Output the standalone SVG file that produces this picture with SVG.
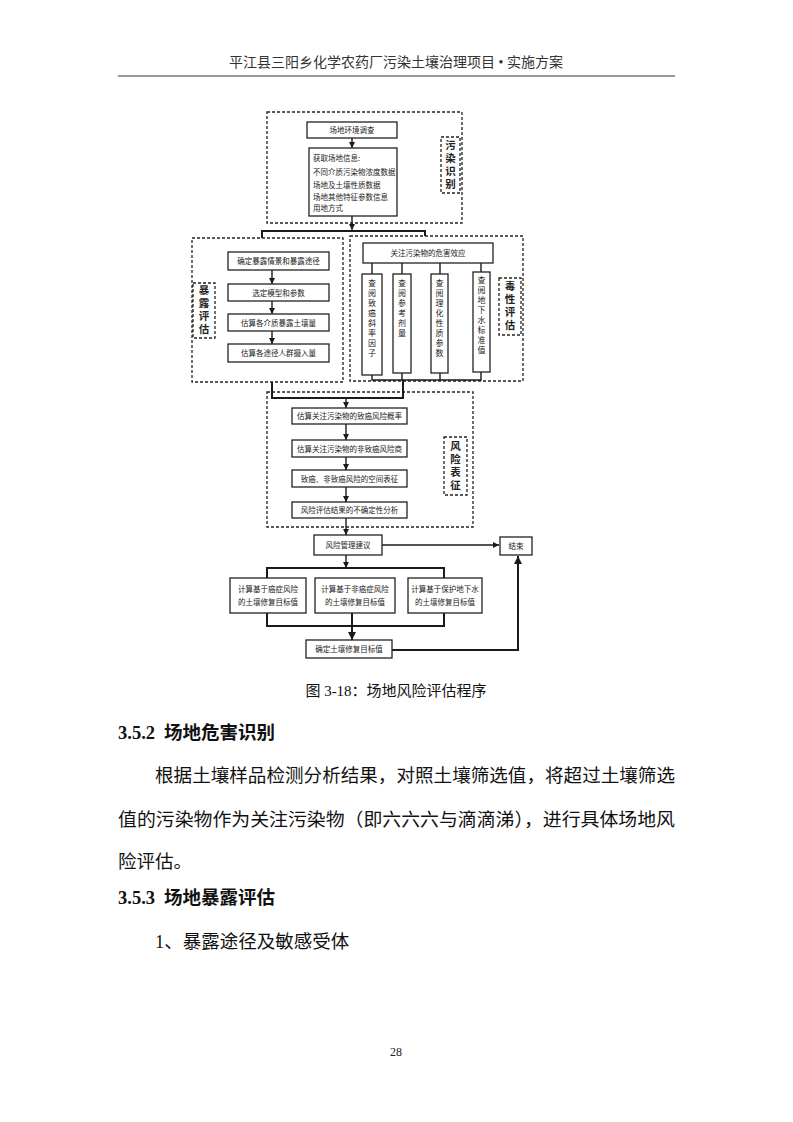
<svg xmlns="http://www.w3.org/2000/svg" width="793" height="1122" viewBox="0 0 793 1122">
<style>
.bg{fill:#ffffff}
.box{fill:#ffffff;stroke:#222;stroke-width:1.3}
.dash{fill:none;stroke:#222;stroke-width:1.3;stroke-dasharray:3 2}
.ln{fill:none;stroke:#1a1a1a;stroke-width:1.4}
.thk{fill:none;stroke:#1a1a1a;stroke-width:2}
.t{font-family:"Noto Sans CJK SC","Liberation Sans",sans-serif;font-size:7.5px;fill:#222}
.tc{font-family:"Noto Sans CJK SC","Liberation Sans",sans-serif;font-size:7.5px;fill:#222;text-anchor:middle}
.tv{font-family:"Noto Sans CJK SC","Liberation Sans",sans-serif;font-size:8px;fill:#222;writing-mode:vertical-rl;letter-spacing:2px}
.lab{font-family:"Noto Sans CJK SC","Liberation Sans",sans-serif;font-size:10.5px;font-weight:bold;fill:#222;writing-mode:vertical-rl;letter-spacing:2.5px}
.hdr{font-family:"Liberation Serif","Noto Sans CJK SC",serif;font-size:14px;fill:#333;text-anchor:middle}
.cap{font-family:"Liberation Serif","Noto Sans CJK SC",serif;font-size:15px;fill:#111;text-anchor:middle}
.h2{font-family:"Liberation Serif","Noto Sans CJK SC",serif;font-size:18.5px;font-weight:bold;fill:#111}
.body{font-family:"Liberation Serif","Noto Sans CJK SC",serif;font-size:18.5px;fill:#111}
.pg{font-family:"Liberation Serif",serif;font-size:12px;fill:#222;text-anchor:middle}
</style>
<defs>
<marker id="ah" markerWidth="6" markerHeight="6" refX="6" refY="3" orient="auto" markerUnits="userSpaceOnUse">
<path d="M0,0 L6,3 L0,6 z" fill="#1a1a1a"/>
</marker>
<marker id="ahb" markerWidth="8" markerHeight="8" refX="8" refY="4" orient="auto" markerUnits="userSpaceOnUse">
<path d="M0,0 L8,4 L0,8 z" fill="#1a1a1a"/>
</marker>
<clipPath id="infoclip"><rect x="309" y="148" width="88" height="68"/></clipPath>
</defs>
<rect class="bg" x="0" y="0" width="793" height="1122"/>

<g id="header">
<text class="hdr" x="396" y="67">平江县三阳乡化学农药厂污染土壤治理项目 • 实施方案</text>
<line x1="118" y1="76" x2="675" y2="76" stroke="#333" stroke-width="1.2"/>
</g>

<g id="groups">
<rect id="grp-pollution" class="dash" x="267" y="112" width="195" height="111"/>
<rect id="grp-exposure" class="dash" x="192" y="238" width="151" height="144"/>
<rect id="grp-toxicity" class="dash" x="350" y="236" width="173" height="145"/>
<rect id="grp-risk" class="dash" x="267" y="392" width="206" height="135"/>
</g>

<g id="connectors">
<line class="ln" x1="352" y1="138" x2="352" y2="148" marker-end="url(#ah)"/>
<line class="ln" x1="352" y1="216" x2="352" y2="230" marker-end="url(#ah)"/>
<polyline class="thk" points="262,238 262,231 425,231 425,236"/>
<line class="ln" x1="272" y1="270" x2="272" y2="284" marker-end="url(#ah)"/>
<line class="ln" x1="272" y1="301" x2="272" y2="314" marker-end="url(#ah)"/>
<line class="ln" x1="272" y1="331" x2="272" y2="344" marker-end="url(#ah)"/>
<line class="ln" x1="372" y1="263" x2="372" y2="274"/>
<line class="ln" x1="402" y1="263" x2="402" y2="274"/>
<line class="ln" x1="440" y1="263" x2="440" y2="274"/>
<line class="ln" x1="481" y1="263" x2="481" y2="272"/>
<polyline class="ln" points="372,375 372,380 481,380 481,372"/>
<line class="ln" x1="402" y1="373" x2="402" y2="380"/>
<line class="ln" x1="440" y1="373" x2="440" y2="380"/>
<polyline class="thk" points="272,382 272,398 403,398 403,380"/>
<line class="ln" x1="346" y1="398" x2="346" y2="408" marker-end="url(#ah)"/>
<line class="ln" x1="346" y1="424" x2="346" y2="440" marker-end="url(#ah)"/>
<line class="ln" x1="346" y1="457" x2="346" y2="470" marker-end="url(#ah)"/>
<line class="ln" x1="346" y1="487" x2="346" y2="502" marker-end="url(#ah)"/>
<line class="ln" x1="346" y1="518" x2="346" y2="535" marker-end="url(#ah)"/>
<line class="ln" x1="382" y1="545" x2="499" y2="545" marker-end="url(#ah)"/>
<line class="ln" x1="346" y1="555" x2="346" y2="568" marker-end="url(#ah)"/>
<polyline class="thk" points="267,578 267,568 444,568 444,578"/>
<polyline class="thk" points="267,613 267,626 444,626 444,613"/>
<line class="thk" x1="352" y1="613" x2="352" y2="640" marker-end="url(#ahb)"/>
<polyline class="thk" points="392,650 518,650 518,556" marker-end="url(#ahb)"/>
</g>

<g id="n-survey">
<rect class="box" x="307" y="122" width="90" height="16"/>
<text class="tc" x="352" y="133">场地环境调查</text>
</g>
<g id="n-info">
<rect class="box" x="309" y="148" width="88" height="68"/>
<g clip-path="url(#infoclip)">
<text class="t" x="313" y="161">获取场地信息:</text>
<text class="t" x="313" y="175">不同介质污染物浓度数据</text>
<text class="t" x="313" y="188">场地及土壤性质数据</text>
<text class="t" x="313" y="200">场地其他特征参数信息</text>
<text class="t" x="313" y="211">用地方式</text>
</g>
</g>
<g id="lab-pollution">
<rect class="dash" x="441" y="137" width="19" height="56"/>
<text class="lab" x="450.5" y="140">污染识别</text>
</g>

<g id="n-exp1">
<rect class="box" x="228" y="252" width="101" height="18"/>
<text class="tc" x="278.5" y="264">确定暴露情景和暴露途径</text>
</g>
<g id="n-exp2">
<rect class="box" x="228" y="284" width="101" height="17"/>
<text class="tc" x="278.5" y="295.5">选定模型和参数</text>
</g>
<g id="n-exp3">
<rect class="box" x="228" y="314" width="101" height="17"/>
<text class="tc" x="278.5" y="325.5">估算各介质暴露土壤量</text>
</g>
<g id="n-exp4">
<rect class="box" x="228" y="344" width="101" height="18"/>
<text class="tc" x="278.5" y="356">估算各途径人群摄入量</text>
</g>
<g id="lab-exposure">
<rect class="dash" x="193" y="283" width="22" height="55"/>
<text class="lab" x="204" y="285">暴露评估</text>
</g>

<g id="n-tox">
<rect class="box" x="363" y="243" width="130" height="20"/>
<text class="tc" x="428" y="256">关注污染物的危害效应</text>
</g>
<g id="n-tox1">
<rect class="box" x="362" y="274" width="20" height="101"/>
<text class="tv" x="372" y="279">查阅致癌斜率因子</text>
</g>
<g id="n-tox2">
<rect class="box" x="393" y="274" width="18" height="99"/>
<text class="tv" x="402" y="279">查阅参考剂量</text>
</g>
<g id="n-tox3">
<rect class="box" x="431" y="274" width="17" height="99"/>
<text class="tv" x="439.5" y="279">查阅理化性质参数</text>
</g>
<g id="n-tox4">
<rect class="box" x="473" y="272" width="17" height="100"/>
<text class="tv" x="481.5" y="276">查阅地下水标准值</text>
</g>
<g id="lab-toxicity">
<rect class="dash" x="499" y="278" width="22" height="57"/>
<text class="lab" x="510" y="281">毒性评估</text>
</g>

<g id="n-risk1">
<rect class="box" x="292" y="408" width="115" height="16"/>
<text class="tc" x="349.5" y="419">估算关注污染物的致癌风险概率</text>
</g>
<g id="n-risk2">
<rect class="box" x="292" y="440" width="115" height="17"/>
<text class="tc" x="349.5" y="451.5">估算关注污染物的非致癌风险商</text>
</g>
<g id="n-risk3">
<rect class="box" x="292" y="470" width="115" height="17"/>
<text class="tc" x="349.5" y="481.5">致癌、非致癌风险的空间表征</text>
</g>
<g id="n-risk4">
<rect class="box" x="292" y="502" width="115" height="16"/>
<text class="tc" x="349.5" y="513">风险评估结果的不确定性分析</text>
</g>
<g id="lab-risk">
<rect class="dash" x="444" y="437" width="23" height="58"/>
<text class="lab" x="455.5" y="441">风险表征</text>
</g>

<g id="n-mgmt">
<rect class="box" x="314" y="535" width="68" height="20"/>
<text class="tc" x="348" y="548">风险管理建议</text>
</g>
<g id="n-end">
<rect class="box" x="500" y="537" width="32" height="18"/>
<text class="tc" x="516" y="549">结束</text>
</g>
<g id="n-goal1">
<rect class="box" x="230" y="578" width="76" height="35"/>
<text class="tc" x="268" y="592">计算基于癌症风险</text>
<text class="tc" x="268" y="605">的土壤修复目标值</text>
</g>
<g id="n-goal2">
<rect class="box" x="315" y="578" width="80" height="35"/>
<text class="tc" x="355" y="592">计算基于非癌症风险</text>
<text class="tc" x="355" y="605">的土壤修复目标值</text>
</g>
<g id="n-goal3">
<rect class="box" x="408" y="578" width="74" height="35"/>
<text class="tc" x="445" y="592">计算基于保护地下水</text>
<text class="tc" x="445" y="605">的土壤修复目标值</text>
</g>
<g id="n-final">
<rect class="box" x="306" y="640" width="86" height="18"/>
<text class="tc" x="349" y="652">确定土壤修复目标值</text>
</g>

<g id="body">
<text class="cap" x="396" y="696">图 3-18：场地风险评估程序</text>
<text class="h2" x="118" y="739">3.5.2<tspan dx="9">场地危害识别</tspan></text>
<text class="body" x="155" y="782" textLength="520" lengthAdjust="spacingAndGlyphs">根据土壤样品检测分析结果，对照土壤筛选值，将超过土壤筛选</text>
<text class="body" x="118" y="826" textLength="557" lengthAdjust="spacingAndGlyphs">值的污染物作为关注污染物（即六六六与滴滴涕），进行具体场地风</text>
<text class="body" x="118" y="868">险评估。</text>
<text class="h2" x="118" y="904">3.5.3<tspan dx="9">场地暴露评估</tspan></text>
<text class="body" x="155" y="948">1、暴露途径及敏感受体</text>
<text class="pg" x="396" y="1056">28</text>
</g>
</svg>
